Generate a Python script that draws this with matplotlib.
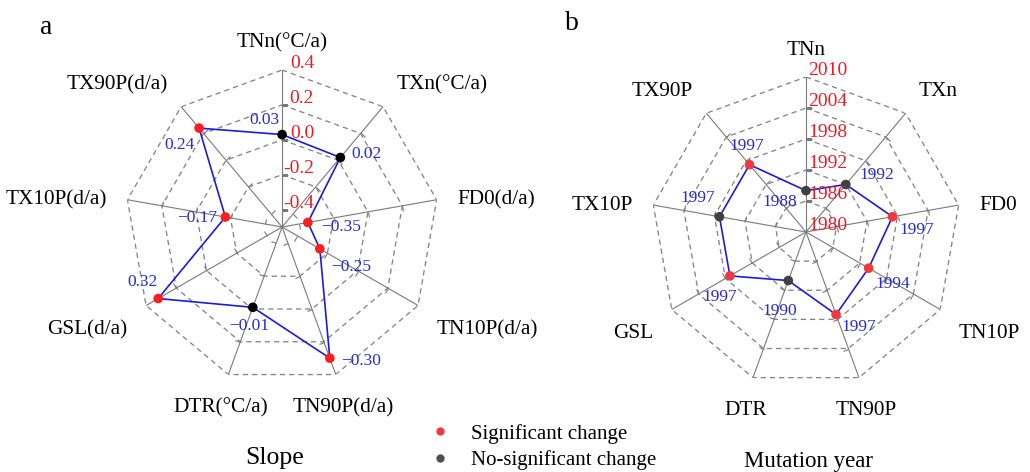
"""
Radar charts of extreme temperature indices: slope (a) and mutation year (b)
"""
import matplotlib.pyplot as plt
import numpy as np
from matplotlib.lines import Line2D
from matplotlib.markers import MarkerStyle
from matplotlib.transforms import Affine2D

plt.rcParams['font.family'] = ['Liberation Serif', 'DejaVu Serif']

# Data
indices = ['TNn', 'TXn', 'FD0', 'TN10P', 'TN90P', 'DTR', 'GSL', 'TX10P', 'TX90P']
units = ['(°C/a)', '(°C/a)', '(d/a)', '(d/a)', '(d/a)', '(°C/a)', '(d/a)', '(d/a)', '(d/a)']

slope = [0.03, 0.02, -0.35, -0.25, 0.30, -0.01, 0.32, -0.17, 0.24]
slope_text = ['0.03', '0.02', '\u22120.35', '\u22120.25', '\u22120.30',
              '\u22120.01', '0.32', '\u22120.17', '0.24']
slope_sig = [False, False, True, True, True, False, True, True, True]
slope_ticks = [-0.4, -0.2, 0.0, 0.2, 0.4]

year = [1988, 1992, 1997, 1994, 1997, 1990, 1997, 1997, 1997]
year_sig = [False, False, True, True, True, False, True, False, True]
year_ticks = [1980, 1986, 1992, 1998, 2004, 2010]

BLUE_LINE = '#1c1cd8'
BLUE_TEXT = '#2a2ad2'
RED_TICK = '#ec1c24'
GRID = '#858585'


def draw_radar(ax, values, sig, texts, offsets, rmin, rings, ticks, tick_labels,
               tick_dx, tick_ha, labels, sig_color, ns_color):
    n = len(values)
    theta = np.arange(n) * 2 * np.pi / n
    rmax = rings[-1]
    ax.set_theta_zero_location('N')
    ax.set_theta_direction(-1)
    ax.set_ylim(rmin, rmax)
    ax.grid(False)
    ax.set_xticks([])
    ax.set_yticks([])
    ax.spines['polar'].set_visible(False)
    ax.patch.set_alpha(0)

    closed = np.append(theta, theta[0])
    # dashed nonagon rings
    for v in rings:
        ax.plot(closed, [v] * (n + 1), ls=(0, (4, 3)), color=GRID, lw=0.95, zorder=1)
    # spokes and small ticks
    for t in theta:
        ax.plot([t, t], [rmin, rmax], color='#7a7a7a', lw=0.8, zorder=1)
        tick = MarkerStyle(2, transform=Affine2D().rotate_deg(-np.degrees(t) - 90))
        tv = [v for v in ticks if rmin < v < rmax]
        ax.plot([t] * len(tv), tv, ls='none', marker=tick, ms=4, mew=0.8,
                color='#7a7a7a', zorder=1)

    # data polygon
    ax.plot(closed, np.append(values, values[0]), color=BLUE_LINE, lw=1.2, zorder=3)
    colors = [sig_color if s else ns_color for s in sig]
    ax.scatter(theta, values, c=colors, s=48, zorder=4, linewidths=0)
    for t, v, txt, off in zip(theta, values, texts, offsets):
        ax.annotate(txt, xy=(t, v), xytext=off, textcoords='offset pixels',
                    ha='center', va='center', color=BLUE_TEXT, fontsize=12.5, zorder=5)

    # radial tick labels along the first spoke
    for v, lab in zip(ticks, tick_labels):
        ax.annotate(lab, xy=(0, v), xytext=(tick_dx, 6), textcoords='offset pixels',
                    ha=tick_ha, va='center', color=RED_TICK, fontsize=14, zorder=5)

    # index labels
    r_lab = rmin + 1.135 * (rmax - rmin)
    for t, lab in zip(theta, labels):
        s, c = np.sin(t), np.cos(t)
        ha = 'center' if abs(s) < 0.35 else ('left' if s > 0 else 'right')
        va = 'bottom' if c > 0.3 else ('top' if c < -0.3 else 'center')
        ax.annotate(lab, xy=(t, r_lab), xytext=(0, -4), textcoords='offset pixels',
                    ha=ha, va=va, fontsize=15.3, annotation_clip=False)


fig = plt.figure(figsize=(10.3, 4.72), dpi=100)

ax_a = fig.add_axes([0.1214, 0.1864, 0.3049, 0.6653], projection='polar')
draw_radar(ax_a, slope, slope_sig, slope_text,
           [(-18, 15), (26, 4), (33, -5), (31, -18), (31, -3),
            (-4, -19), (-16, 17), (-28, -1), (-20, -17)],
           -0.5, slope_ticks[1:], slope_ticks,
           ['-0.4', '-0.2', '0.0', '0.2', '0.4'], 32, 'right',
           [i + u for i, u in zip(indices, units)], '#ff1e1e', '#000000')

ax_b = fig.add_axes([0.6320, 0.1801, 0.3010, 0.6568], projection='polar')
draw_radar(ax_b, year, year_sig, [str(y) for y in year],
           [(-26, -11), (31, 9), (24, -13), (24, -16), (23, -12),
            (-9, -30), (-10, -21), (-22, 19), (-3, 19)],
           1980, year_ticks[1:], year_ticks,
           [str(y) for y in year_ticks], 2, 'left',
           indices, '#ee3a3e', '#404040')

fig.text(46 / 1030, 1 - 28 / 472, 'a', fontsize=20, ha='center', va='center')
fig.text(572 / 1030, 1 - 24 / 472, 'b', fontsize=20, ha='center', va='center')
fig.text(275 / 1030, 1 - 458 / 472, 'Slope', fontsize=18.5, ha='center', va='center')
fig.text(809 / 1030, 1 - 461 / 472, 'Mutation year', fontsize=16.5, ha='center', va='center')

handles = [Line2D([], [], ls='none', marker='o', ms=6, mew=0, color='#f03c3c'),
           Line2D([], [], ls='none', marker='o', ms=6, mew=0, color='#505050')]
fig.legend(handles, ['Significant change', 'No-significant change'],
           loc='center left', bbox_to_anchor=(430 / 1030, 1 - 447 / 472),
           frameon=False, fontsize=15, handlelength=1, handletextpad=0.95,
           labelspacing=0.32, borderpad=0, borderaxespad=0)

fig.savefig('out.png', dpi=100, facecolor='white')
plt.close(fig)
